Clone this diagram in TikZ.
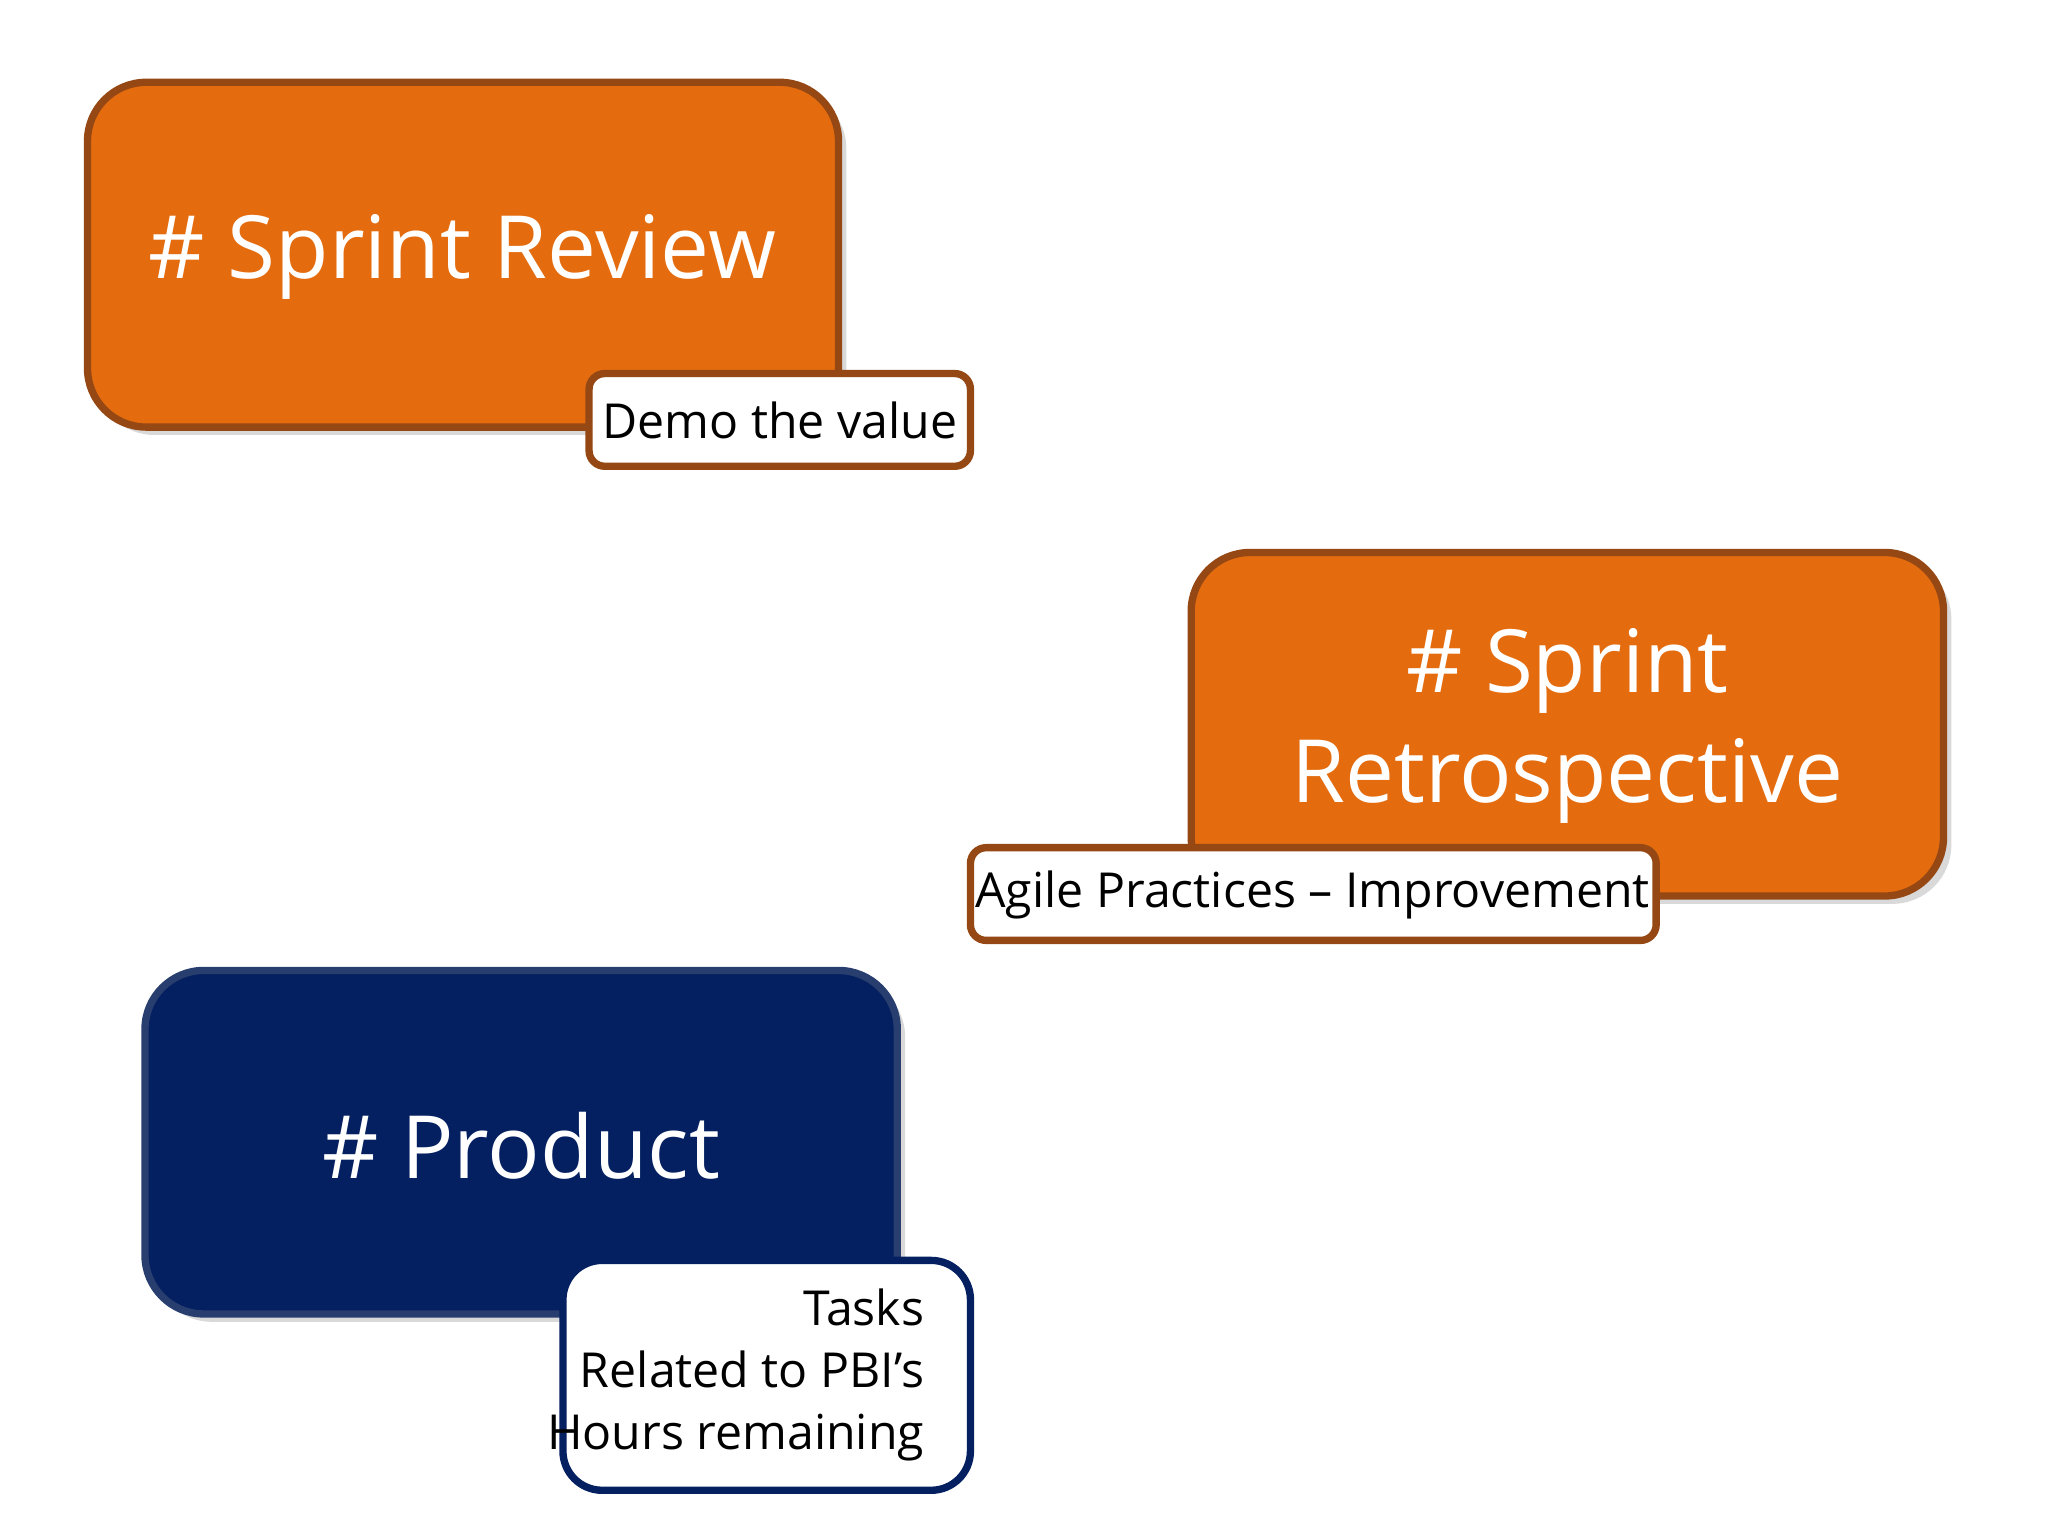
\documentclass[tikz,border=0pt]{standalone}
\usepackage{fontspec}
\setmainfont{Open Sans}
\usetikzlibrary{shadows}
\definecolor{org}{RGB}{228,108,14}
\definecolor{orgb}{RGB}{150,72,20}
\definecolor{navy}{RGB}{4,32,96}
\definecolor{navyb}{RGB}{40,62,110}
\tikzset{
 big/.style={rounded corners=0.45cm, line width=1.6pt, drop shadow={opacity=0.3,shadow xshift=0.06cm,shadow yshift=-0.06cm}},
 lbl/.style={fill=white, rounded corners=0.12cm, line width=1.6pt},
 bigtxt/.style={text=white, font=\fontsize{19}{24}\selectfont, align=center},
 lbltxt/.style={text=black, font=\fontsize{10.5}{13.5}\selectfont}
}
\begin{document}
\begin{tikzpicture}[x=0.01cm,y=-0.01cm]
\useasboundingbox (0,0) rectangle (1568,1176);
\draw[big, fill=org, draw=orgb] (67,63) rectangle (642,327);
\node[bigtxt] (sr) at (354,197) {\# Sprint Review};
\draw[lbl, draw=orgb] (451,286) rectangle (743,357);
\node[lbltxt] (demo) at (597,322) {Demo the value};

\draw[big, fill=org, draw=orgb] (912,423) rectangle (1488,686);
\node[bigtxt] (retro) at (1200,556) {\# Sprint\\Retrospective};
\draw[lbl, draw=orgb] (743,649) rectangle (1268,720);
\node[lbltxt] (agile) at (1005,685) {Agile Practices -- Improvement};

\draw[big, fill=navy, draw=navyb] (111,743) rectangle (687,1006);
\node[bigtxt] (prod) at (399,877) {\# Product};
\draw[lbl, draw=navy, rounded corners=0.3cm] (431,965) rectangle (743,1141);
\node[lbltxt, align=right, anchor=east] (tasks) at (720,1053) {Tasks\\Related to PBI’s\\Hours remaining};
\end{tikzpicture}
\end{document}
